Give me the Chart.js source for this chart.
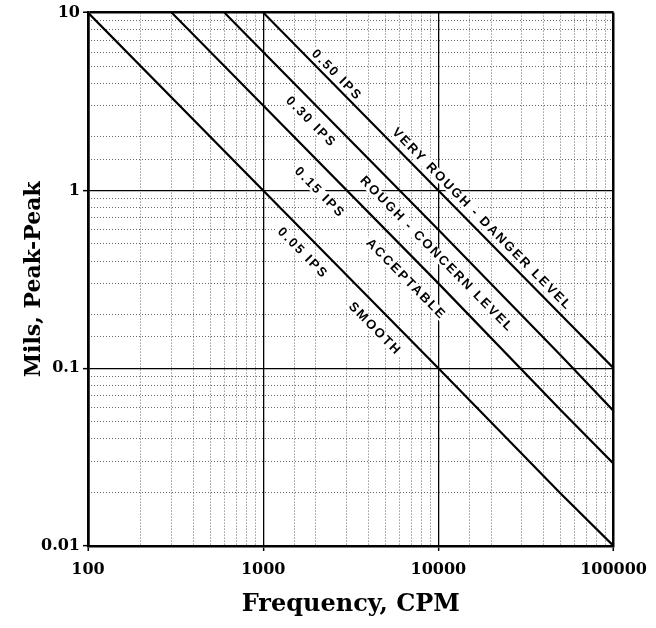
<!DOCTYPE html>
<html>
<head>
<meta charset="utf-8">
<script src="https://cdn.jsdelivr.net/npm/chart.js@4.4.1/dist/chart.umd.min.js"></script>
<style>
  html, body { margin: 0; padding: 0; background: #fff; }
  canvas { display: block; }
</style>
</head>
<body>
<canvas id="myChart" width="656" height="628"></canvas>
<script>
// velocity lines (CPM vs mils peak-peak)
var freq005 = [100, 1000, 10000, 50000, 100000];
var mils005 = [10, 1, 0.1, 0.0197, 0.01];
var freq015 = [300, 1000, 10000, 50000, 100000];
var mils015 = [10, 3.0, 0.3, 0.058, 0.029];
var freq030 = [600, 1000, 10000, 50000, 100000];
var mils030 = [10, 6.0, 0.6, 0.118, 0.0575];
var freq050 = [1000, 10000, 50000, 100000];
var mils050 = [10, 1.0, 0.2, 0.1];

var xTickLabels = [100, 1000, 10000, 100000];
var yTickLabels = [0.01, 0.1, 1, 10];

// zone texts, placed in data units
var zoneTexts = ['0.50 IPS', 'VERY ROUGH - DANGER LEVEL', '0.30 IPS', 'ROUGH - CONCERN LEVEL',
                 '0.15 IPS', 'ACCEPTABLE', '0.05 IPS', 'SMOOTH'];
var zoneCpm  = [2630, 17700, 1870, 9790, 2100, 6520, 1680, 4340];
var zoneMils = [4.44, 0.686, 2.42, 0.436, 0.97, 0.316, 0.443, 0.166];

function pts(xs, ys) {
    return xs.map(function (x, i) { return { x: x, y: ys[i] }; });
}

function isDecade(v) {
    var l = Math.log10(v);
    return Math.abs(l - Math.round(l)) < 1e-6;
}

function inList(v, list) {
    return list.some(function (t) { return Math.abs(Math.log10(t) - Math.log10(v)) < 1e-6; });
}

// solid lines on the decades
function majorColor(c) {
    if (!c.tick) return '#000';
    return isDecade(c.tick.value) ? '#000' : 'rgba(0,0,0,0)';
}

function majorWidth(edges) {
    return function (c) {
        if (!c.tick) return 1;
        return inList(c.tick.value, edges) ? 2.5 : 1.3;
    };
}

// dotted lines in between
function minorColor(c) {
    if (!c.tick) return 'rgba(0,0,0,0)';
    return isDecade(c.tick.value) ? 'rgba(0,0,0,0)' : '#666';
}

var zoneLabelPlugin = {
    id: 'zoneLabels',
    afterDatasetsDraw: function (chart) {
        var ctx = chart.ctx;
        var xs = chart.scales.x, ys = chart.scales.y;
        var ang = Math.atan2(
            ys.getPixelForValue(mils005[2]) - ys.getPixelForValue(mils005[0]),
            xs.getPixelForValue(freq005[2]) - xs.getPixelForValue(freq005[0]));
        ctx.save();
        ctx.font = 'bold 13px "Liberation Sans", Arial, sans-serif';
        if ('letterSpacing' in ctx) ctx.letterSpacing = '2px';
        ctx.textAlign = 'center';
        ctx.textBaseline = 'middle';
        zoneTexts.forEach(function (t, i) {
            var px = xs.getPixelForValue(zoneCpm[i]);
            var py = ys.getPixelForValue(zoneMils[i]);
            ctx.save();
            ctx.translate(px, py);
            ctx.rotate(ang);
            var w = ctx.measureText(t).width;
            ctx.fillStyle = '#fff';
            ctx.fillRect(-w / 2 - 2, -5.5, w + 4, 11);
            ctx.fillStyle = '#000';
            ctx.fillText(t, 0, 0);
            ctx.restore();
        });
        ctx.restore();
    }
};

var bgPlugin = {
    id: 'bg',
    beforeDraw: function (chart) {
        var ctx = chart.ctx;
        ctx.save();
        ctx.fillStyle = '#fff';
        ctx.fillRect(0, 0, chart.width, chart.height);
        ctx.restore();
    }
};

function lineSet(label, xs, ys) {
    return {
        label: label,
        data: pts(xs, ys),
        showLine: true,
        borderColor: '#000',
        borderWidth: 2.2,
        pointRadius: 0,
        fill: false,
        tension: 0
    };
}

function minorAxis(pos, lo, hi) {
    return {
        type: 'logarithmic',
        position: pos,
        min: lo,
        max: hi,
        afterFit: function (s) {
            if (pos === 'bottom') s.height = 0; else s.width = 0;
        },
        border: { display: false, dash: [1, 2] },
        grid: { color: minorColor, lineWidth: 1, drawTicks: false },
        ticks: { display: false, autoSkip: false }
    };
}

var ctx = document.getElementById('myChart');
window.myChart = new Chart(ctx, {
    type: 'scatter',
    data: {
        datasets: [
            lineSet('0.05 IPS', freq005, mils005),
            lineSet('0.15 IPS', freq015, mils015),
            lineSet('0.30 IPS', freq030, mils030),
            lineSet('0.50 IPS', freq050, mils050)
        ]
    },
    options: {
        responsive: false,
        animation: false,
        layout: { padding: { left: 0, top: 10, right: 42, bottom: 0 } },
        plugins: {
            legend: { display: false },
            tooltip: { enabled: false }
        },
        scales: {
            xMinor: minorAxis('bottom', 100, 100000),
            yMinor: minorAxis('left', 0.01, 10),
            x: {
                type: 'logarithmic',
                min: 100,
                max: 100000,
                afterFit: function (s) { s.height = 82; },
                border: { display: true, color: '#000', width: 2.5 },
                grid: {
                    color: majorColor,
                    lineWidth: majorWidth([100, 100000]),
                    tickColor: majorColor,
                    tickLength: 5,
                    tickWidth: 1.5
                },
                ticks: {
                    autoSkip: false,
                    maxRotation: 0,
                    padding: 9,
                    color: '#000',
                    font: { family: '"DejaVu Serif"', size: 16, weight: 'bold' },
                    callback: function (v) { return inList(v, xTickLabels) ? String(Math.round(v)) : ''; }
                },
                title: {
                    display: true,
                    text: 'Frequency, CPM',
                    color: '#000',
                    font: { family: '"DejaVu Serif"', size: 24, weight: 'bold' },
                    padding: { top: 0, bottom: 9 }
                }
            },
            y: {
                type: 'logarithmic',
                min: 0.01,
                max: 10,
                afterFit: function (s) { s.width = 88; },
                border: { display: true, color: '#000', width: 2.5 },
                grid: {
                    color: majorColor,
                    lineWidth: majorWidth([10]),
                    tickColor: majorColor,
                    tickLength: 5,
                    tickWidth: 1.5
                },
                ticks: {
                    autoSkip: false,
                    padding: 3,
                    color: '#000',
                    font: { family: '"DejaVu Serif"', size: 16, weight: 'bold' },
                    callback: function (v) {
                        if (!inList(v, yTickLabels)) return '';
                        return String(parseFloat(v.toPrecision(3)));
                    }
                },
                title: {
                    display: true,
                    text: 'Mils, Peak-Peak',
                    color: '#000',
                    font: { family: '"DejaVu Serif"', size: 22, weight: 'bold' },
                    padding: { top: 21, bottom: 0 }
                }
            }
        }
    },
    plugins: [bgPlugin, zoneLabelPlugin]
});
</script>
</body>
</html>
